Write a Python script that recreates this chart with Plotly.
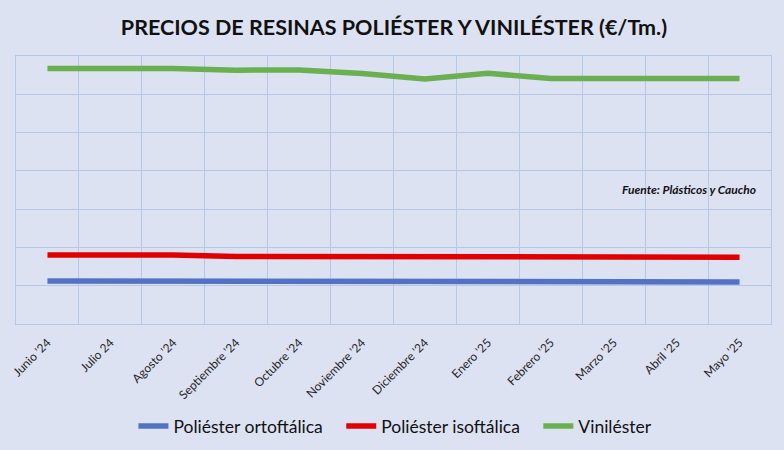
import plotly.graph_objects as go

meses = ["Junio '24", "Julio 24", "Agosto '24", "Septiembre '24", "Octubre '24", "Noviembre '24",
         "Diciembre '24", "Enero '25", "Febrero '25", "Marzo '25", "Abril '25", "Mayo '25"]
orto = [1125, 1125, 1125, 1100, 1100, 1100, 1100, 1100, 1100, 1100, 1100, 1100]
iso = [1805, 1805, 1805, 1765, 1765, 1745, 1745, 1745, 1745, 1745, 1745, 1745]
vinil = [6675, 6675, 6675, 6630, 6635, 6540, 6400, 6550, 6410, 6410, 6410, 6410]

series = [
    ("Poliéster ortoftálica", orto, "#5472C4"),
    ("Poliéster isoftálica", iso, "#E00000"),
    ("Viniléster", vinil, "#6AAF50"),
]

xi = list(range(len(meses)))
bg = "#DDE2F3"
grid = "#B7C7E8"
pad = "\u00a0\u00a0\u00a0"

fig = go.Figure()
for k, (name, vals, col) in enumerate(series):
    label = name + (pad if k < len(series) - 1 else "")
    fig.add_trace(go.Scatter(x=xi, y=vals, mode="lines", name=label,
                             line=dict(color=col, width=5.5)))

fig.update_layout(
    width=784, height=450,
    paper_bgcolor=bg, plot_bgcolor=bg,
    margin=dict(l=16, r=13, t=56, b=126, autoexpand=False),
    title=dict(text="<b>PRECIOS DE RESINAS POLIÉSTER Y VINILÉSTER (€/Tm.)</b>",
               x=(123 + 665) / 2 / 784, xanchor="center", y=1 - 27 / 450, yanchor="middle",
               font=dict(family="Lato", size=21.5, color="#111111")),
    showlegend=True,
    legend=dict(orientation="h", x=(143 + 645) / 2 / 784, xref="paper", xanchor="center",
                y=-(426 - 324) / 268, yanchor="middle",
                font=dict(family="Lato", size=17.5, color="#111111"),
                bgcolor="rgba(0,0,0,0)", itemwidth=30),
    font=dict(family="Lato"),
)

fig.update_xaxes(
    range=[-0.5, len(meses) - 0.5], automargin=False,
    tickmode="array", tickvals=xi, ticktext=meses, tickangle=-45,
    tickfont=dict(family="Lato", size=12, color="#262626"),
    ticklabelstandoff=6,
    showgrid=False, zeroline=False, ticks="",
    showline=True, linecolor=grid, linewidth=1, mirror=True,
    minor=dict(tickmode="array", tickvals=[i - 0.5 for i in range(len(meses) + 1)],
               showgrid=True, gridcolor=grid, gridwidth=1, ticks=""),
)
fig.update_yaxes(
    range=[0, 7000], dtick=1000, showticklabels=False, automargin=False,
    showgrid=True, gridcolor=grid, gridwidth=1, zeroline=False,
    showline=True, linecolor=grid, linewidth=1, mirror=True,
)

fig.add_annotation(text="<b><i>Fuente: Plásticos y Caucho</i></b>",
                   xref="paper", yref="paper", x=(758 - 16) / 755, xanchor="right",
                   y=(324 - 189) / 268, yanchor="middle", showarrow=False,
                   font=dict(family="Lato", size=12, color="#111111"))

fig.write_html("out.html", config={"displayModeBar": False},
               post_script="document.body.style.margin='0';")
